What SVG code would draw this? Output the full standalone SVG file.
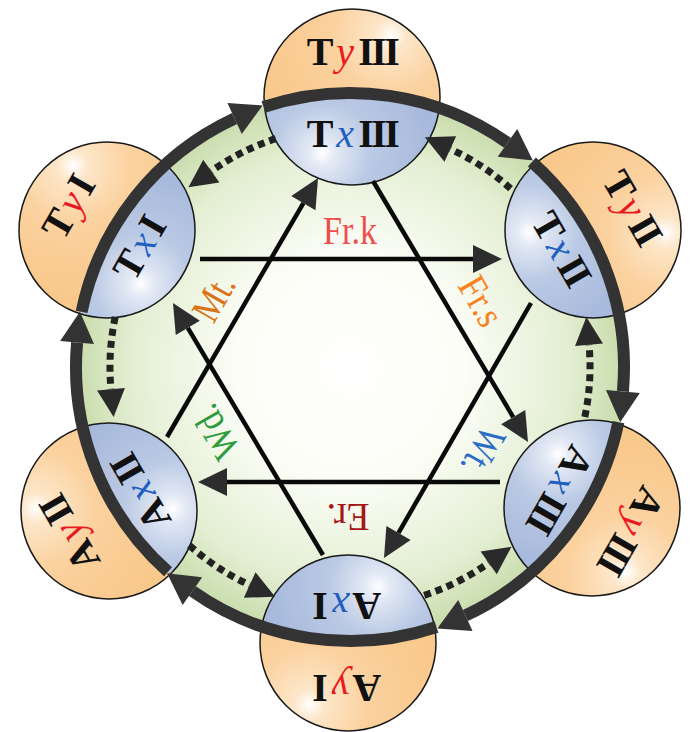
<svg xmlns="http://www.w3.org/2000/svg" width="690" height="732" viewBox="0 0 690 732">
<defs>
  <radialGradient id="gGreen" cx="350" cy="367" r="274" gradientUnits="userSpaceOnUse">
    <stop offset="0" stop-color="#ffffff"/>
    <stop offset="0.42" stop-color="#fbfdf6"/>
    <stop offset="0.8" stop-color="#e3eed2"/>
    <stop offset="1" stop-color="#c8dcab"/>
  </radialGradient>
  <radialGradient id="gBlue" cx="0.33" cy="0.82" r="0.62">
    <stop offset="0" stop-color="#ffffff"/>
    <stop offset="0.12" stop-color="#e3e9f5"/>
    <stop offset="0.45" stop-color="#bac9e4"/>
    <stop offset="1" stop-color="#a7b9dc"/>
  </radialGradient>
  <radialGradient id="gOrange" cx="0.72" cy="0.15" r="0.75">
    <stop offset="0" stop-color="#ffffff"/>
    <stop offset="0.12" stop-color="#fde6c8"/>
    <stop offset="0.45" stop-color="#fbd19e"/>
    <stop offset="1" stop-color="#f9c88b"/>
  </radialGradient>
  <clipPath id="ringClip" clipPathUnits="userSpaceOnUse">
    <circle cx="350" cy="367" r="274"/>
  </clipPath>
  <marker id="mRing" markerUnits="userSpaceOnUse" markerWidth="40" markerHeight="40" refX="0" refY="0" orient="auto" overflow="visible">
    <path d="M0,-17 L31,0 L0,17 z" fill="#333"/>
  </marker>
  <marker id="mDot" markerUnits="userSpaceOnUse" markerWidth="40" markerHeight="40" refX="0" refY="0" orient="auto" overflow="visible">
    <path d="M0,-14 L28,0 L0,14 z" fill="#2a2a2a"/>
  </marker>
  <marker id="mHex" markerUnits="userSpaceOnUse" markerWidth="40" markerHeight="40" refX="0" refY="0" orient="auto" overflow="visible">
    <path d="M0,-14 L29,0 L0,14 z" fill="#2d2d2d"/>
  </marker>
</defs>
<style>
  .orange{fill:url(#gOrange)}
  .blue{fill:url(#gBlue)}
  .outline{fill:none;stroke:#1a1a1a;stroke-width:1.5}
  .nt{font-family:"Liberation Serif","Times New Roman",serif;font-size:40px;font-weight:bold;fill:#111;text-anchor:middle}
  .ix{font-style:italic;font-weight:normal;fill:#1f5fbf}
  .iy{font-style:italic;font-weight:normal;fill:#e8191f}
  .rn{letter-spacing:-2.5px}
  .ring{fill:none;stroke:#333;stroke-width:12;marker-end:url(#mRing)}
  .dot{fill:none;stroke:#222;stroke-width:7;stroke-dasharray:7 5;marker-end:url(#mDot)}
  .hex{stroke:#0a0a0a;stroke-width:4.5;marker-end:url(#mHex)}
  .lb{font-family:"Liberation Serif","Times New Roman",serif;font-size:40px;text-anchor:middle}
</style>

<circle id="disk" cx="350" cy="367" r="274" fill="url(#gGreen)"/>

<g id="nodes">
  <g id="node-TxIII">
    <g transform="translate(352,97)"><circle r="88" class="orange"/></g>
    <g clip-path="url(#ringClip)"><g transform="translate(352,97)"><circle r="88" class="blue"/></g></g>
    <circle cx="352" cy="97" r="88" class="outline"/>
    <g transform="translate(352,97)">
      <text class="nt" y="50">T<tspan class="ix" dx="3">x</tspan><tspan class="rn" dx="4">III</tspan></text>
      <text class="nt" y="-32">T<tspan class="iy" dx="3">y</tspan><tspan class="rn" dx="4">III</tspan></text>
    </g>
  </g>
  <g id="node-TxII">
    <g transform="translate(593,230) rotate(60)"><circle r="88" class="orange"/></g>
    <g clip-path="url(#ringClip)"><g transform="translate(593,230) rotate(60)"><circle r="88" class="blue"/></g></g>
    <circle cx="593" cy="230" r="88" class="outline"/>
    <g transform="translate(593,230) rotate(60)">
      <text class="nt" y="50">T<tspan class="ix" dx="3">x</tspan><tspan class="rn" dx="4">II</tspan></text>
      <text class="nt" y="-32">T<tspan class="iy" dx="3">y</tspan><tspan class="rn" dx="4">II</tspan></text>
    </g>
  </g>
  <g id="node-AxIII">
    <g transform="translate(592,508) rotate(120)"><circle r="88" class="orange"/></g>
    <g clip-path="url(#ringClip)"><g transform="translate(592,508) rotate(120)"><circle r="88" class="blue"/></g></g>
    <circle cx="592" cy="508" r="88" class="outline"/>
    <g transform="translate(592,508) rotate(120)">
      <text class="nt" y="50">A<tspan class="ix" dx="3">x</tspan><tspan class="rn" dx="4">III</tspan></text>
      <text class="nt" y="-32">A<tspan class="iy" dx="3">y</tspan><tspan class="rn" dx="4">III</tspan></text>
    </g>
  </g>
  <g id="node-AxI">
    <g transform="translate(348,643) rotate(180)"><circle r="88" class="orange"/></g>
    <g clip-path="url(#ringClip)"><g transform="translate(348,643) rotate(180)"><circle r="88" class="blue"/></g></g>
    <circle cx="348" cy="643" r="88" class="outline"/>
    <g transform="translate(348,643) rotate(180)">
      <text class="nt" y="50">A<tspan class="ix" dx="3">x</tspan><tspan class="rn" dx="4">I</tspan></text>
      <text class="nt" y="-32">A<tspan class="iy" dx="3">y</tspan><tspan class="rn" dx="4">I</tspan></text>
    </g>
  </g>
  <g id="node-AxII">
    <g transform="translate(109,511) rotate(240)"><circle r="88" class="orange"/></g>
    <g clip-path="url(#ringClip)"><g transform="translate(109,511) rotate(240)"><circle r="88" class="blue"/></g></g>
    <circle cx="109" cy="511" r="88" class="outline"/>
    <g transform="translate(109,511) rotate(240)">
      <text class="nt" y="50">A<tspan class="ix" dx="3">x</tspan><tspan class="rn" dx="4">II</tspan></text>
      <text class="nt" y="-32">A<tspan class="iy" dx="3">y</tspan><tspan class="rn" dx="4">II</tspan></text>
    </g>
  </g>
  <g id="node-TxI">
    <g transform="translate(107,230) rotate(300)"><circle r="88" class="orange"/></g>
    <g clip-path="url(#ringClip)"><g transform="translate(107,230) rotate(300)"><circle r="88" class="blue"/></g></g>
    <circle cx="107" cy="230" r="88" class="outline"/>
    <g transform="translate(107,230) rotate(300)">
      <text class="nt" y="50">T<tspan class="ix" dx="3">x</tspan><tspan class="rn" dx="4">I</tspan></text>
      <text class="nt" y="-32">T<tspan class="iy" dx="3">y</tspan><tspan class="rn" dx="4">I</tspan></text>
    </g>
  </g>
</g>

<g id="connectors">
  <path class="ring" d="M263.5,107.0 A274,274 0 0 1 507.5,142.8"/>
  <path class="ring" d="M531.9,162.1 A274,274 0 0 1 622.9,391.4"/>
  <path class="ring" d="M618.4,422.1 A274,274 0 0 1 465.4,615.5"/>
  <path class="ring" d="M436.5,627.0 A274,274 0 0 1 192.4,591.2"/>
  <path class="ring" d="M168.0,571.8 A274,274 0 0 1 77.1,342.6"/>
  <path class="ring" d="M81.6,311.9 A274,274 0 0 1 234.6,118.5"/>
  <path class="dot" d="M275.8,138.7 A240,240 0 0 0 211.3,171.1"/>
  <path class="dot" d="M115.2,317.1 A240,240 0 0 0 111.0,389.2"/>
  <path class="dot" d="M189.4,545.4 A240,240 0 0 0 249.7,585.0"/>
  <path class="dot" d="M424.2,595.3 A240,240 0 0 0 488.7,562.9"/>
  <path class="dot" d="M584.8,416.9 A240,240 0 0 0 589.0,344.8"/>
  <path class="dot" d="M510.6,188.6 A240,240 0 0 0 450.3,149.0"/>
  <line class="hex" x1="200" y1="259" x2="473" y2="259"/>
  <line class="hex" x1="373" y1="181" x2="513.2" y2="417.1"/>
  <line class="hex" x1="531" y1="303" x2="398.5" y2="532.9"/>
  <line class="hex" x1="500" y1="482" x2="227" y2="482"/>
  <line class="hex" x1="323" y1="555" x2="187.8" y2="327.9"/>
  <line class="hex" x1="167" y1="437" x2="303.4" y2="203.1"/>
  <text class="lb" fill="#f04e4e" transform="translate(350,231)" y="13" textLength="54" lengthAdjust="spacingAndGlyphs">Fr.k</text>
  <text class="lb" fill="#f7821b" transform="translate(481,301) rotate(60)" y="13" textLength="51" lengthAdjust="spacingAndGlyphs">Fr.s</text>
  <text class="lb" fill="#2b6cc4" transform="translate(483,451) rotate(120)" y="13" textLength="49" lengthAdjust="spacingAndGlyphs">Wt.</text>
  <text class="lb" fill="#a51616" transform="translate(348,517) rotate(180)" y="13" textLength="43" lengthAdjust="spacingAndGlyphs">Er.</text>
  <text class="lb" fill="#2e9b3c" transform="translate(216,432) rotate(240)" y="13" textLength="56" lengthAdjust="spacingAndGlyphs">Wd.</text>
  <text class="lb" fill="#db7418" transform="translate(214,298) rotate(300)" y="13" textLength="47" lengthAdjust="spacingAndGlyphs">Mt.</text>
</g>
</svg>
